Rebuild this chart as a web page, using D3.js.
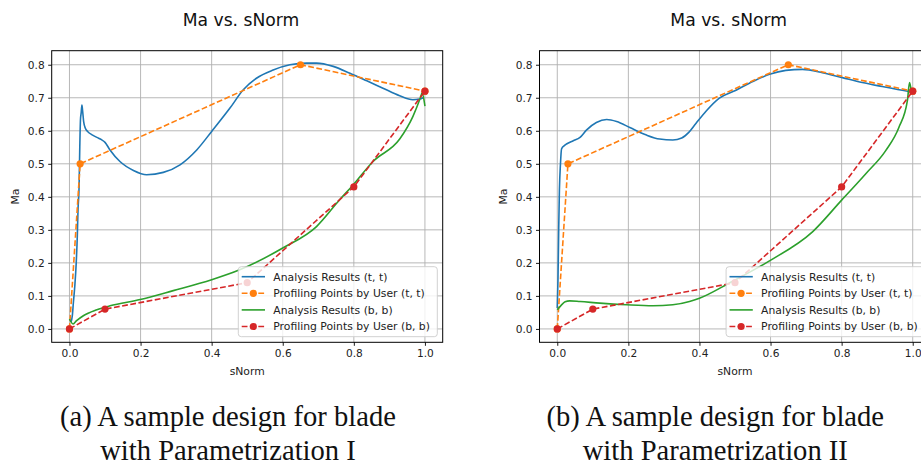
<!DOCTYPE html>
<html>
<head>
<meta charset="utf-8">
<script src="https://cdn.jsdelivr.net/npm/d3@7"></script>
<style>
  html, body { margin: 0; padding: 0; background: #fff; overflow: hidden; }
  svg { display: block; }
</style>
</head>
<body>
<svg id="chart" width="921" height="466"></svg>
<script>
// ---------------- DATA ----------------
const chartTitle = "Ma vs. sNorm";
const xLabel = "sNorm";
const yLabel = "Ma";
const xTicks = [0.0, 0.2, 0.4, 0.6, 0.8, 1.0];
const yTicks = [0.0, 0.1, 0.2, 0.3, 0.4, 0.5, 0.6, 0.7, 0.8];
const seriesNames = ["Analysis Results (t, t)", "Profiling Points by User (t, t)",
                     "Analysis Results (b, b)", "Profiling Points by User (b, b)"];
const captionsA = ["(a) A sample design for blade", "with Parametrization I"];
const captionsB = ["(b) A sample design for blade", "with Parametrization II"];

// Profiling points (same in both designs)  [sNorm, Ma]
const profileTT = [[0.0, 0.0], [0.03, 0.5], [0.65, 0.8], [1.0, 0.72]];
const profileBB = [[0.0, 0.0], [0.1, 0.06], [0.5, 0.14], [0.8, 0.43], [1.0, 0.72]];

// Design (a) - Parametrization I
const analysisTT_a = [[0.004,0.02],[0.008,0.04],[0.011,0.08],[0.015,0.13],[0.019,0.2],[0.022,0.28],
  [0.024,0.36],[0.027,0.43],[0.029,0.55],[0.031,0.635],[0.033,0.655],[0.035,0.678],[0.037,0.66],
  [0.040,0.627],[0.045,0.607],[0.051,0.598],[0.065,0.587],[0.077,0.58],[0.09,0.573],[0.1,0.565],
  [0.114,0.542],[0.142,0.507],[0.18,0.48],[0.217,0.467],[0.264,0.474],[0.311,0.497],[0.358,0.542],
  [0.40,0.598],[0.451,0.668],[0.489,0.724],[0.526,0.759],[0.573,0.784],[0.62,0.80],[0.667,0.805],
  [0.695,0.805],[0.742,0.795],[0.789,0.774],[0.835,0.752],[0.882,0.729],[0.929,0.706],[0.966,0.694],
  [0.985,0.696],[0.995,0.70]];
const analysisBB_a = [[0.0,0.03],[0.01,0.015],[0.02,0.025],[0.039,0.040],[0.077,0.058],[0.114,0.070],
  [0.199,0.089],[0.292,0.116],[0.4,0.149],[0.479,0.179],[0.6,0.245],[0.695,0.31],[0.76,0.391],
  [0.798,0.436],[0.854,0.507],[0.929,0.575],[0.966,0.643],[0.987,0.699],[0.992,0.714],[1.0,0.675]];

// Design (b) - Parametrization II
const analysisTT_b = [[0.0,0.063],[0.002,0.15],[0.004,0.3],[0.006,0.42],[0.009,0.5],[0.012,0.545],
  [0.02,0.555],[0.026,0.56],[0.045,0.57],[0.064,0.58],[0.082,0.602],[0.110,0.625],[0.139,0.634],
  [0.167,0.628],[0.204,0.61],[0.251,0.587],[0.288,0.575],[0.325,0.572],[0.35,0.578],[0.37,0.595],
  [0.39,0.622],[0.419,0.66],[0.456,0.699],[0.503,0.723],[0.55,0.749],[0.597,0.771],[0.643,0.783],
  [0.69,0.786],[0.746,0.776],[0.802,0.761],[0.858,0.746],[0.914,0.734],[0.989,0.719],[1.0,0.717]];
const analysisBB_b = [[0.0,0.058],[0.012,0.073],[0.022,0.082],[0.035,0.085],[0.064,0.083],[0.12,0.078],
  [0.195,0.073],[0.269,0.070],[0.325,0.073],[0.372,0.083],[0.40,0.093],[0.484,0.139],[0.597,0.206],
  [0.718,0.294],[0.80,0.39],[0.868,0.47],[0.924,0.54],[0.961,0.61],[0.985,0.691],[0.991,0.746],[0.996,0.72]];

const colors = ["#1f77b4", "#ff7f0e", "#2ca02c", "#d62728"];

// ---------------- DRAW ----------------
const svg = d3.select("#chart");
const font = "'DejaVu Sans', sans-serif";

function drawPanel(cfg) {
  const x = d3.scaleLinear().domain([-0.05, 1.05]).range([cfg.left, cfg.left + 391]);
  const y = d3.scaleLinear().domain([-0.0405, 0.8425]).range([342.3, 50.7]);
  const g = svg.append("g");
  const clipId = "clip" + cfg.id;
  g.append("clipPath").attr("id", clipId).append("rect")
    .attr("x", x.range()[0]).attr("y", 50.7).attr("width", 391).attr("height", 291.6);

  // grid
  g.append("g").selectAll("line").data(xTicks).join("line")
    .attr("x1", d => x(d)).attr("x2", d => x(d)).attr("y1", 50.7).attr("y2", 342.3)
    .attr("stroke", "#b0b0b0").attr("stroke-width", 0.9);
  g.append("g").selectAll("line").data(yTicks).join("line")
    .attr("x1", x.range()[0]).attr("x2", x.range()[1]).attr("y1", d => y(d)).attr("y2", d => y(d))
    .attr("stroke", "#b0b0b0").attr("stroke-width", 0.9);

  // axes
  const xAxis = d3.axisBottom(x).tickValues(xTicks).tickFormat(d3.format(".1f"))
    .tickSizeInner(3.5).tickSizeOuter(0).tickPadding(3.5);
  const yAxis = d3.axisLeft(y).tickValues(yTicks).tickFormat(d3.format(".1f"))
    .tickSizeInner(3.5).tickSizeOuter(0).tickPadding(3.5);
  const gx = g.append("g").attr("transform", "translate(0,342.3)").call(xAxis);
  const gy = g.append("g").attr("transform", `translate(${x.range()[0]},0)`).call(yAxis);
  [gx, gy].forEach(a => {
    a.select(".domain").remove();
    a.selectAll("line").attr("stroke", "#000").attr("stroke-width", 0.9);
    a.selectAll("text").attr("font-family", font).attr("font-size", "10.6px").attr("fill", "#222");
  });

  // lines
  const line = d3.line().x(d => x(d[0])).y(d => y(d[1])).curve(d3.curveMonotoneX);
  const lg = g.append("g").attr("clip-path", `url(#${clipId})`);
  const series = [
    { data: cfg.tt, dashed: false, marker: false, c: colors[0] },
    { data: profileTT, dashed: true, marker: true, c: colors[1] },
    { data: cfg.bb, dashed: false, marker: false, c: colors[2] },
    { data: profileBB, dashed: true, marker: true, c: colors[3] }
  ];
  series.forEach(s => {
    lg.append("path").datum(s.data)
      .attr("d", s.marker ? d3.line().x(d => x(d[0])).y(d => y(d[1])) : line)
      .attr("fill", "none").attr("stroke", s.c).attr("stroke-width", 1.6)
      .attr("stroke-dasharray", s.dashed ? "5.8,2.5" : null)
      .attr("stroke-linejoin", "round");
    if (s.marker) {
      lg.append("g").selectAll("circle").data(s.data).join("circle")
        .attr("cx", d => x(d[0])).attr("cy", d => y(d[1])).attr("r", 3.6).attr("fill", s.c);
    }
  });

  // spines
  g.append("rect").attr("x", x.range()[0]).attr("y", 50.7).attr("width", 391).attr("height", 291.6)
    .attr("fill", "none").attr("stroke", "#000").attr("stroke-width", 1);

  // title & labels
  g.append("text").attr("x", cfg.titleX).attr("y", 25.7).attr("text-anchor", "middle")
    .attr("font-family", font).attr("font-size", "17.2px").attr("fill", "#111").text(chartTitle);
  g.append("text").attr("x", x(0.5)).attr("y", 374.5).attr("text-anchor", "middle")
    .attr("font-family", font).attr("font-size", "10.8px").attr("fill", "#222").text(xLabel);
  g.append("text").attr("transform", `translate(${cfg.yLabelX},196.5) rotate(-90)`)
    .attr("text-anchor", "middle").attr("font-family", font).attr("font-size", "10.8px")
    .attr("fill", "#222").text(yLabel);

  // legend
  const lx = x.range()[1] - 5.4 - 199, ly = 266.7;
  const leg = g.append("g");
  leg.append("rect").attr("x", lx).attr("y", ly).attr("width", 199).attr("height", 70)
    .attr("rx", 3).attr("fill", "#fff").attr("fill-opacity", 0.8)
    .attr("stroke", "#cccccc").attr("stroke-width", 0.9);
  seriesNames.forEach((name, i) => {
    const cy = ly + 10 + i * 16.6;
    const s = series[i];
    leg.append("line").attr("x1", lx + 3.4).attr("x2", lx + 26.7).attr("y1", cy).attr("y2", cy)
      .attr("stroke", s.c).attr("stroke-width", 1.6)
      .attr("stroke-dasharray", s.dashed ? "5.8,2.5" : null);
    if (s.marker) leg.append("circle").attr("cx", lx + 15).attr("cy", cy).attr("r", 3.6).attr("fill", s.c);
    leg.append("text").attr("x", lx + 35).attr("y", cy).attr("dy", "0.36em")
      .attr("font-family", font).attr("font-size", "10.8px").attr("fill", "#222").text(name);
  });

  // caption
  cfg.caption.forEach((t, i) => {
    svg.append("text").attr("x", cfg.capX).attr("y", 426 + i * 33.5).attr("text-anchor", "middle")
      .attr("font-family", "'Liberation Serif', 'Times New Roman', serif").attr("font-size", "28.6px")
      .attr("fill", "#111").text(t);
  });
}

drawPanel({ id: "a", left: 51.7, tt: analysisTT_a, bb: analysisBB_a, titleX: 241, yLabelX: 18.5, capX: 228, caption: captionsA });
drawPanel({ id: "b", left: 539.5, tt: analysisTT_b, bb: analysisBB_b, titleX: 728.7, yLabelX: 506.5, capX: 715.3, caption: captionsB });
</script>
</body>
</html>
